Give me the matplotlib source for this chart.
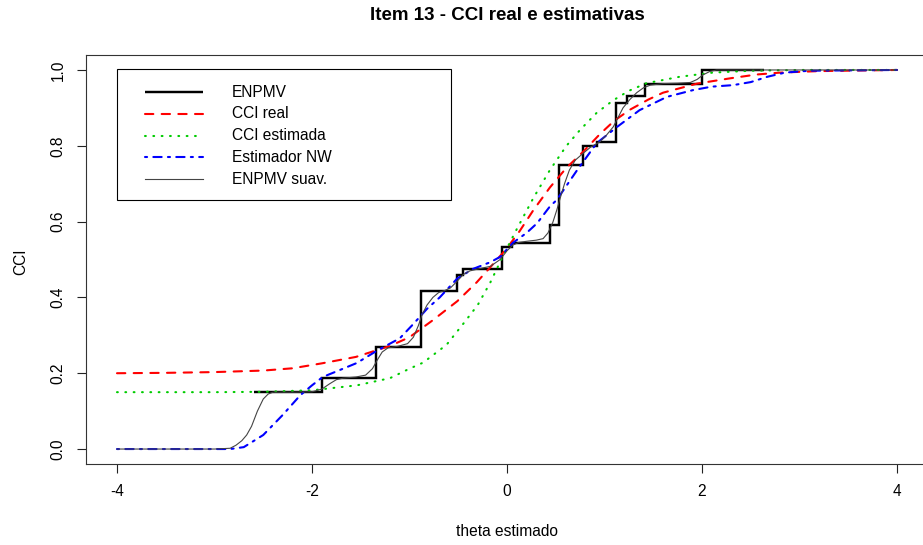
import matplotlib
matplotlib.use("Agg")
import matplotlib.pyplot as plt
from matplotlib.patches import Rectangle

plt.rcParams['font.family'] = ['Liberation Sans', 'DejaVu Sans']

# ENPMV step estimate (jump positions and levels)
step_x = [-2.60, -1.90, -1.34, -0.88, -0.51, -0.45, -0.05, 0.05, 0.44, 0.53,
          0.78, 0.92, 1.12, 1.23, 1.42, 2.00, 2.64]
step_y = [0.150, 0.187, 0.270, 0.418, 0.460, 0.476, 0.533, 0.544, 0.590, 0.748,
          0.800, 0.810, 0.912, 0.931, 0.963, 1.000, 1.000]

# true item characteristic curve
real_x = [-4.0, -3.5, -3.0, -2.5, -2.2, -1.9, -1.55, -1.2, -1.0, -0.76,
          -0.51, -0.31, -0.17, 0.0, 0.13, 0.27, 0.44, 0.61, 0.78, 0.95,
          1.10, 1.26, 1.45, 1.60, 1.95, 2.29, 2.56, 2.80, 3.20, 4.0]
real_y = [0.200, 0.201, 0.203, 0.207, 0.213, 0.226, 0.243, 0.272, 0.295, 0.340,
          0.390, 0.440, 0.480, 0.530, 0.575, 0.630, 0.690, 0.742, 0.784, 0.830,
          0.866, 0.895, 0.922, 0.940, 0.964, 0.978, 0.988, 0.993, 0.997, 1.000]

# estimated parametric curve
est_x = [-4.0, -3.0, -2.5, -2.0, -1.54, -1.2, -1.0, -0.86, -0.62, -0.45,
         -0.30, -0.17, -0.04, 0.10, 0.27, 0.44, 0.61, 0.75, 0.92, 1.09,
         1.25, 1.43, 1.77, 2.11, 2.50, 3.0, 4.0]
est_y = [0.150, 0.150, 0.151, 0.155, 0.168, 0.187, 0.212, 0.228, 0.275, 0.330,
         0.380, 0.440, 0.510, 0.580, 0.662, 0.736, 0.800, 0.842, 0.887, 0.920,
         0.945, 0.965, 0.982, 0.993, 0.998, 1.000, 1.000]

# Nadaraya-Watson estimate
nw_x = [-4.0, -3.0, -2.84, -2.70, -2.50, -2.30, -2.12, -2.00, -1.89, -1.70,
        -1.54, -1.33, -1.10, -0.96, -0.82, -0.69, -0.51, -0.35, -0.17, -0.07,
        0.06, 0.20, 0.31, 0.44, 0.51, 0.72, 0.92, 1.13, 1.36, 1.64,
        1.91, 2.10, 2.32, 2.50, 2.67, 2.85, 3.10, 4.0]
nw_y = [0.000, 0.000, 0.000, 0.005, 0.037, 0.090, 0.142, 0.168, 0.190, 0.210,
        0.227, 0.260, 0.292, 0.330, 0.370, 0.400, 0.450, 0.475, 0.493, 0.507,
        0.544, 0.570, 0.596, 0.640, 0.657, 0.736, 0.807, 0.850, 0.894, 0.929,
        0.947, 0.956, 0.960, 0.968, 0.982, 0.993, 0.998, 1.000]

# smoothed ENPMV
suav_x = [-4.0, -3.0, -2.84, -2.78, -2.72, -2.67, -2.62, -2.56, -2.50, -2.45,
          -2.40, -2.20, -2.00, -1.90, -1.82, -1.75, -1.68, -1.55, -1.45, -1.38,
          -1.33, -1.28, -1.22, -1.12, -1.02, -0.96, -0.91, -0.87, -0.82, -0.76,
          -0.70, -0.64, -0.58, -0.51, -0.45, -0.38, -0.28, -0.17, -0.07, 0.00,
          0.06, 0.12, 0.20, 0.30, 0.37, 0.42, 0.47, 0.51, 0.54, 0.59,
          0.64, 0.70, 0.78, 0.86, 0.95, 1.02, 1.09, 1.14, 1.19, 1.26,
          1.33, 1.40, 1.47, 1.60, 1.75, 1.88, 1.95, 2.01, 2.08, 2.15,
          2.30, 3.00, 4.00]
suav_y = [0.000, 0.000, 0.002, 0.010, 0.022, 0.037, 0.060, 0.100, 0.132, 0.145,
          0.150, 0.150, 0.151, 0.158, 0.172, 0.183, 0.187, 0.190, 0.195, 0.212,
          0.235, 0.256, 0.267, 0.271, 0.278, 0.295, 0.325, 0.355, 0.380, 0.400,
          0.413, 0.418, 0.425, 0.443, 0.460, 0.470, 0.476, 0.482, 0.500, 0.523,
          0.538, 0.545, 0.548, 0.551, 0.555, 0.570, 0.598, 0.630, 0.657, 0.700,
          0.736, 0.762, 0.780, 0.797, 0.810, 0.828, 0.850, 0.875, 0.900, 0.922,
          0.940, 0.953, 0.960, 0.964, 0.965, 0.967, 0.975, 0.987, 0.996, 1.000,
          1.000, 1.000, 1.000]

x_ticks = [-4, -2, 0, 2, 4]
y_ticks = [0.0, 0.2, 0.4, 0.6, 0.8, 1.0]
y_ticklabels = ["0.0", "0.2", "0.4", "0.6", "0.8", "1.0"]
legend_labels = ["ENPMV", "CCI real", "CCI estimada", "Estimador NW", "ENPMV suav."]

W, H = 923, 545
fig = plt.figure(figsize=(W / 100, H / 100), dpi=100)
ax_l, ax_r, ax_t, ax_b = 85.8, 928.2, 54.8, 464.2
ax = fig.add_axes([ax_l / W, (H - ax_b) / H, (ax_r - ax_l) / W, (ax_b - ax_t) / H])
ax.set_xlim(-4.32, 4.32)
ax.set_ylim(-0.04, 1.04)

LW = 1.5
styles = [
    dict(color='black', lw=LW + 0.25, solid_joinstyle='miter', solid_capstyle='butt'),
    dict(color='red', lw=LW, dashes=(4, 4), dash_capstyle='round'),
    dict(color='#00cc00', lw=LW, dashes=(0.4, 3.6), dash_capstyle='round'),
    dict(color='blue', lw=LW, dashes=(1, 3, 4, 3), dash_capstyle='round'),
    dict(color='#444444', lw=0.8),
]

ax.step(step_x, step_y, where='post', **styles[0])
ax.plot(real_x, real_y, **styles[1])
ax.plot(est_x, est_y, **styles[2])
ax.plot(nw_x, nw_y, **styles[3])
ax.plot(suav_x, suav_y, **styles[4])

ax.set_xticks(x_ticks)
ax.set_xticklabels([str(v) for v in x_ticks])
ax.set_yticks(y_ticks)
ax.set_yticklabels(y_ticklabels, rotation=90, va='center')
ax.tick_params(axis='both', length=6.5, width=0.8, labelsize=11.2, pad=8,
               colors='#222222', labelcolor='black')
for sp in ax.spines.values():
    sp.set_linewidth(0.8)
    sp.set_color('#333333')

# legend box
def fx(px):
    return (px - ax_l) / (ax_r - ax_l)

def fy(py):
    return (ax_b - py) / (ax_b - ax_t)

ax.add_patch(Rectangle((fx(117), fy(200)), fx(451) - fx(117), fy(69) - fy(200),
                       transform=ax.transAxes, fill=False, edgecolor='black', lw=0.8,
                       zorder=5))
rows = [92, 113.5, 135.5, 157, 179]
for st, lab, py in zip(styles, legend_labels, rows):
    ax.plot([fx(145), fx(203)], [fy(py), fy(py)], transform=ax.transAxes, zorder=6, **st)
    ax.text(fx(232), fy(py), lab, transform=ax.transAxes, fontsize=11.2,
            va='center', ha='left', zorder=6)

fig.text(507 / W, 1 - 16 / H, "Item 13 - CCI real e estimativas", fontsize=13.5,
         fontweight='bold', ha='center', va='center')
fig.text(507 / W, 1 - 532 / H, "theta estimado", fontsize=11.2, ha='center', va='center')
fig.text(21 / W, 1 - 262 / H, "CCI", fontsize=11.2, ha='center', va='center', rotation=90)

fig.savefig("out.png", dpi=100)
